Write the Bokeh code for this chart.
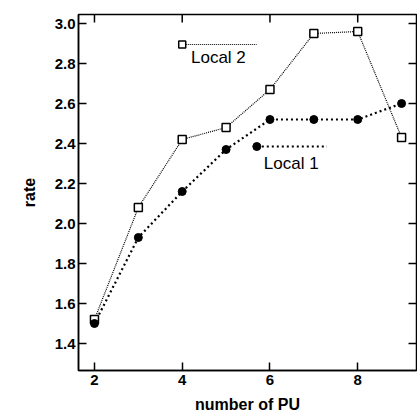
from bokeh.plotting import figure
from bokeh.models import FixedTicker, PrintfTickFormatter, Range1d
from bokeh.core.properties import value
from bokeh.embed import file_html
from bokeh.resources import INLINE

pu = [2, 3, 4, 5, 6, 7, 8, 9]
local2 = [1.52, 2.08, 2.42, 2.48, 2.67, 2.95, 2.96, 2.43]
local1 = [1.50, 1.93, 2.16, 2.37, 2.52, 2.52, 2.52, 2.60]
x_ticks = [2, 4, 6, 8]
y_ticks = [1.4, 1.6, 1.8, 2.0, 2.2, 2.4, 2.6, 2.8, 3.0]

FONT = "Liberation Sans"
X0, X1 = 1.636, 9.34
Y0, Y1 = 1.265, 3.045

p = figure(width=417, height=415, output_backend="svg", toolbar_location=None,
           x_range=Range1d(X0, X1), y_range=Range1d(Y0, Y1),
           min_border_left=78, min_border_right=1, min_border_top=14, min_border_bottom=45)
p.background_fill_color = "white"
p.border_fill_color = "white"
p.outline_line_color = "black"
p.outline_line_width = 1.5
p.xgrid.visible = False
p.ygrid.visible = False

for ax in (p.xaxis[0], p.yaxis[0]):
    ax.major_tick_in = 8
    ax.major_tick_out = 0
    ax.minor_tick_in = 0
    ax.minor_tick_out = 0
    ax.axis_line_color = "black"
    ax.axis_line_width = 1.5
    ax.major_tick_line_color = "black"
    ax.major_tick_line_width = 1.5
    ax.major_label_text_font = FONT
    ax.major_label_text_font_style = "bold"
    ax.major_label_text_font_size = "15px"
    ax.major_label_text_color = "black"
    ax.axis_label_text_font = FONT
    ax.axis_label_text_font_style = "bold"
    ax.axis_label_text_font_size = "16px"
    ax.axis_label_text_color = "black"

p.xaxis.ticker = FixedTicker(ticks=x_ticks)
p.yaxis.ticker = FixedTicker(ticks=y_ticks)
p.yaxis.formatter = PrintfTickFormatter(format="%.1f")
p.xaxis.axis_label = "number of PU"
p.yaxis.axis_label = "rate"
p.xaxis.major_label_standoff = 4
p.yaxis.major_label_standoff = 3
p.xaxis.axis_label_standoff = 8
p.yaxis.axis_label_standoff = 14

# inward ticks on top and right edges
tx = 0.04 * (X1 - X0) / 1.78 * 200 / 44 * 1.0
p.segment(x0=x_ticks, y0=[Y1] * len(x_ticks), x1=x_ticks, y1=[Y1 - 0.04] * len(x_ticks),
          line_color="black", line_width=1.5)
p.segment(x0=[X1] * len(y_ticks), y0=y_ticks, x1=[X1 - 8 / 44] * len(y_ticks), y1=y_ticks,
          line_color="black", line_width=1.5)

# series
p.line(pu, local2, line_color="black", line_width=1.2, line_dash="1 1")
p.line(pu, local1, line_color="black", line_width=2.2, line_dash="2 3")
p.scatter(pu, local2, marker="square", size=8, fill_color="white", line_color="black", line_width=1.5)
p.scatter(pu, local1, marker="circle", size=8, fill_color="black", line_color="black")

# in-plot legend
p.line([4.0, 5.7], [2.895, 2.895], line_color="black", line_width=1.2, line_dash="1 1")
p.scatter([4.0], [2.895], marker="square", size=7, fill_color="white", line_color="black", line_width=1.5)
p.text([4.2], [2.83], text=["Local 2"], text_font=value(FONT), text_font_size="17px",
       text_baseline="middle", text_align="left", text_color="black")
p.line([5.7, 7.3], [2.385, 2.385], line_color="black", line_width=2, line_dash="2 3")
p.scatter([5.7], [2.385], marker="circle", size=8, fill_color="black", line_color="black")
p.text([5.86], [2.30], text=["Local 1"], text_font=value(FONT), text_font_size="17px",
       text_baseline="middle", text_align="left", text_color="black")

open("out.html", "w").write(file_html(p, INLINE))
